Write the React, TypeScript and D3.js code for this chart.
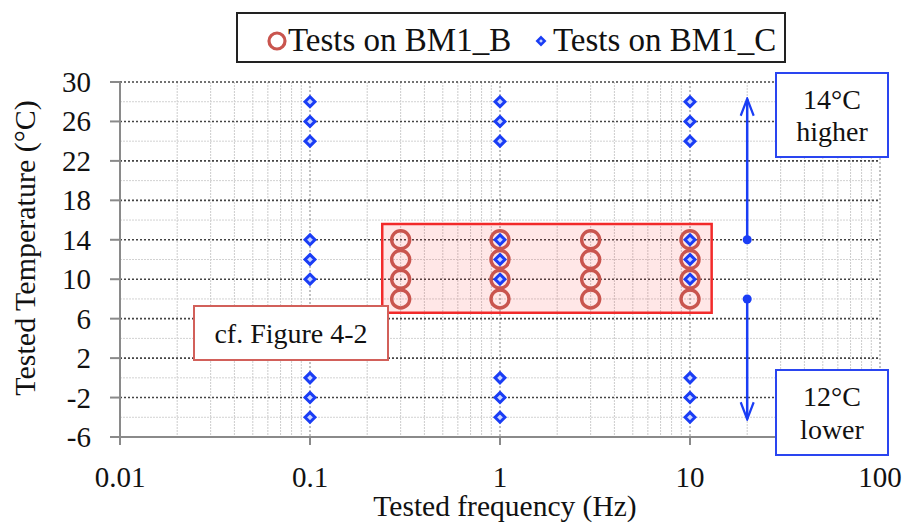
import React, { useRef, useEffect } from "react";
import * as d3 from "d3";

// frequencies (Hz) and temperatures (°C)
const freqB = [0.3, 1, 3, 10];
const tempsB = [14, 12, 10, 8];
const freqC = [0.1, 1, 10];
const tempsC = [28, 26, 24, 14, 12, 10, 0, -2, -4];
const yTicks = [30, 26, 22, 18, 14, 10, 6, 2, -2, -6];
const yMinor = [28, 24, 20, 16, 12, 8, 4, 0, -4];
const xTicks = [0.01, 0.1, 1, 10, 100];
const xTickLabels = ["0.01", "0.1", "1", "10", "100"];
const shadeX = [0.24, 13];
const shadeY = [6.6, 15.6];
const arrowFreq = 20;
const arrowUp = [14, 28.3];
const arrowDown = [8, -4.2];

export default function App() {
  const svgRef = useRef<SVGSVGElement>(null);

  useEffect(() => {
    const svg = d3.select(svgRef.current);
    svg.selectAll("*").remove();

    const font = "'Liberation Serif', 'Times New Roman', serif";
    const x = d3.scaleLog().domain([0.01, 100]).range([120, 880]);
    const y = d3.scaleLinear().domain([-6, 30]).range([437, 82]);

    const defs = svg.append("defs");
    defs
      .append("marker")
      .attr("id", "head")
      .attr("viewBox", "0 0 20 16")
      .attr("refX", 18)
      .attr("refY", 8)
      .attr("markerWidth", 20)
      .attr("markerHeight", 16)
      .attr("markerUnits", "userSpaceOnUse")
      .attr("orient", "auto")
      .append("path")
      .attr("d", "M1,1.5 L18,8 L1,14.5")
      .attr("fill", "none")
      .attr("stroke", "#1a3df5")
      .attr("stroke-width", 2.2);

    const grid = svg.append("g");
    // minor vertical lines
    const minorX: number[] = [];
    for (let d = 0.01; d < 100; d *= 10) {
      for (let k = 2; k <= 9; k++) minorX.push(d * k);
    }
    grid
      .selectAll("line.vminor")
      .data(minorX)
      .enter()
      .append("line")
      .attr("x1", (d) => x(d))
      .attr("x2", (d) => x(d))
      .attr("y1", y(30))
      .attr("y2", y(-6))
      .attr("stroke", "#cccccc")
      .attr("stroke-width", 1)
      .attr("stroke-dasharray", "2,1");
    // minor horizontal lines
    grid
      .selectAll("line.hminor")
      .data(yMinor)
      .enter()
      .append("line")
      .attr("x1", x(0.01))
      .attr("x2", x(100))
      .attr("y1", (d) => y(d))
      .attr("y2", (d) => y(d))
      .attr("stroke", "#d2d2d2")
      .attr("stroke-width", 1)
      .attr("stroke-dasharray", "2,1");
    // major vertical lines
    grid
      .selectAll("line.vmajor")
      .data(xTicks.slice(1))
      .enter()
      .append("line")
      .attr("x1", (d) => x(d))
      .attr("x2", (d) => x(d))
      .attr("y1", y(30))
      .attr("y2", y(-6))
      .attr("stroke", "#9a9a9a")
      .attr("stroke-width", 1.2)
      .attr("stroke-dasharray", "2,2");
    // major horizontal lines
    grid
      .selectAll("line.hmajor")
      .data(yTicks)
      .enter()
      .append("line")
      .attr("x1", x(0.01))
      .attr("x2", x(100))
      .attr("y1", (d) => y(d))
      .attr("y2", (d) => y(d))
      .attr("stroke", "#444")
      .attr("stroke-width", 1.6)
      .attr("stroke-dasharray", "2,2");

    // axes
    const axes = svg.append("g").attr("stroke", "#8a8a8a").attr("stroke-width", 2);
    axes.append("line").attr("x1", x(0.01)).attr("x2", x(0.01)).attr("y1", y(30)).attr("y2", y(-6) + 8);
    axes.append("line").attr("x1", x(0.01)).attr("x2", x(100)).attr("y1", y(-6)).attr("y2", y(-6));
    axes
      .selectAll("line.yt")
      .data(yTicks)
      .enter()
      .append("line")
      .attr("x1", x(0.01) - 10)
      .attr("x2", x(0.01))
      .attr("y1", (d) => y(d))
      .attr("y2", (d) => y(d));
    axes
      .selectAll("line.xt")
      .data(xTicks)
      .enter()
      .append("line")
      .attr("x1", (d) => x(d))
      .attr("x2", (d) => x(d))
      .attr("y1", y(-6))
      .attr("y2", y(-6) + 8);

    // tick labels
    svg
      .append("g")
      .selectAll("text")
      .data(yTicks)
      .enter()
      .append("text")
      .attr("x", 91)
      .attr("y", (d) => y(d) + 10)
      .attr("text-anchor", "end")
      .attr("font-family", font)
      .attr("font-size", 29)
      .attr("fill", "#111")
      .text((d) => d);
    svg
      .append("g")
      .selectAll("text")
      .data(xTicks)
      .enter()
      .append("text")
      .attr("x", (d) => x(d))
      .attr("y", 487)
      .attr("text-anchor", "middle")
      .attr("font-family", font)
      .attr("font-size", 29)
      .attr("fill", "#111")
      .text((d, i) => xTickLabels[i]);

    // axis titles
    svg
      .append("text")
      .attr("x", 505)
      .attr("y", 516)
      .attr("text-anchor", "middle")
      .attr("font-family", font)
      .attr("font-size", 29.5)
      .attr("fill", "#111")
      .text("Tested frequency (Hz)");
    svg
      .append("text")
      .attr("transform", `translate(35,248) rotate(-90)`)
      .attr("text-anchor", "middle")
      .attr("font-family", font)
      .attr("font-size", 30)
      .attr("fill", "#111")
      .text("Tested Temperature (°C)");

    // shaded region
    svg
      .append("rect")
      .attr("x", x(shadeX[0]))
      .attr("y", y(shadeY[1]))
      .attr("width", x(shadeX[1]) - x(shadeX[0]))
      .attr("height", y(shadeY[0]) - y(shadeY[1]))
      .attr("fill", "rgba(255,40,40,0.11)")
      .attr("stroke", "#f22a2a")
      .attr("stroke-width", 2.5);

    // BM1_B circles
    const ptsB = freqB.flatMap((f) => tempsB.map((t) => ({ f, t })));
    svg
      .append("g")
      .selectAll("circle")
      .data(ptsB)
      .enter()
      .append("circle")
      .attr("cx", (d) => x(d.f))
      .attr("cy", (d) => y(d.t))
      .attr("r", 9)
      .attr("fill", "none")
      .attr("stroke", "#c9554e")
      .attr("stroke-width", 3.4);

    // BM1_C diamonds
    const ptsC = freqC.flatMap((f) => tempsC.map((t) => ({ f, t })));
    const diamond = d3.symbol().type(d3.symbolDiamond2).size(62);
    svg
      .append("g")
      .selectAll("path")
      .data(ptsC)
      .enter()
      .append("path")
      .attr("transform", (d) => `translate(${x(d.f)},${y(d.t)})`)
      .attr("d", diamond)
      .attr("fill", "#c8d3ff")
      .attr("stroke", "#1a3df5")
      .attr("stroke-width", 3);

    // arrows
    const arrows = svg.append("g");
    [arrowUp, arrowDown].forEach((a) => {
      arrows
        .append("line")
        .attr("x1", x(arrowFreq))
        .attr("x2", x(arrowFreq))
        .attr("y1", y(a[0]))
        .attr("y2", y(a[1]))
        .attr("stroke", "#1a3df5")
        .attr("stroke-width", 2.5)
        .attr("marker-end", "url(#head)");
      arrows
        .append("circle")
        .attr("cx", x(arrowFreq))
        .attr("cy", y(a[0]))
        .attr("r", 4.5)
        .attr("fill", "#1a3df5");
    });

    // text boxes
    const box = (
      bx: number,
      by: number,
      w: number,
      h: number,
      stroke: string,
      lines: string[],
      size: number
    ) => {
      const g = svg.append("g");
      g.append("rect")
        .attr("x", bx)
        .attr("y", by)
        .attr("width", w)
        .attr("height", h)
        .attr("fill", "#fff")
        .attr("stroke", stroke)
        .attr("stroke-width", 2);
      const lh = size * 1.17;
      const top = by + h / 2 - ((lines.length - 1) * lh) / 2 + size * 0.36;
      lines.forEach((l, i) => {
        g.append("text")
          .attr("x", bx + w / 2)
          .attr("y", top + i * lh)
          .attr("text-anchor", "middle")
          .attr("font-family", font)
          .attr("font-size", size)
          .attr("fill", "#111")
          .text(l);
      });
    };
    box(776, 73, 112, 84, "#2a45f0", ["14°C", "higher"], 28);
    box(776, 370, 112, 85, "#2a45f0", ["12°C", "lower"], 28);
    box(194, 306, 194, 54, "#d2605a", ["cf. Figure 4-2"], 28);

    // legend
    const lg = svg.append("g");
    lg.append("rect")
      .attr("x", 237)
      .attr("y", 13)
      .attr("width", 548)
      .attr("height", 49)
      .attr("fill", "#fff")
      .attr("stroke", "#222")
      .attr("stroke-width", 2);
    lg.append("circle")
      .attr("cx", 277)
      .attr("cy", 41)
      .attr("r", 8)
      .attr("fill", "none")
      .attr("stroke", "#c9554e")
      .attr("stroke-width", 3.2);
    lg.append("text")
      .attr("x", 288)
      .attr("y", 51)
      .attr("font-family", font)
      .attr("font-size", 33)
      .attr("fill", "#111")
      .text("Tests on BM1_B");
    lg.append("path")
      .attr("transform", "translate(541,41)")
      .attr("d", d3.symbol().type(d3.symbolDiamond2).size(35))
      .attr("fill", "#c8d3ff")
      .attr("stroke", "#1a3df5")
      .attr("stroke-width", 2.5);
    lg.append("text")
      .attr("x", 553)
      .attr("y", 51)
      .attr("font-family", font)
      .attr("font-size", 33)
      .attr("fill", "#111")
      .text("Tests on BM1_C");
  }, []);

  return (
    <svg
      ref={svgRef}
      width={907}
      height={525}
      style={{ position: "absolute", left: 0, top: 0, background: "#fff" }}
    ></svg>
  );
}
